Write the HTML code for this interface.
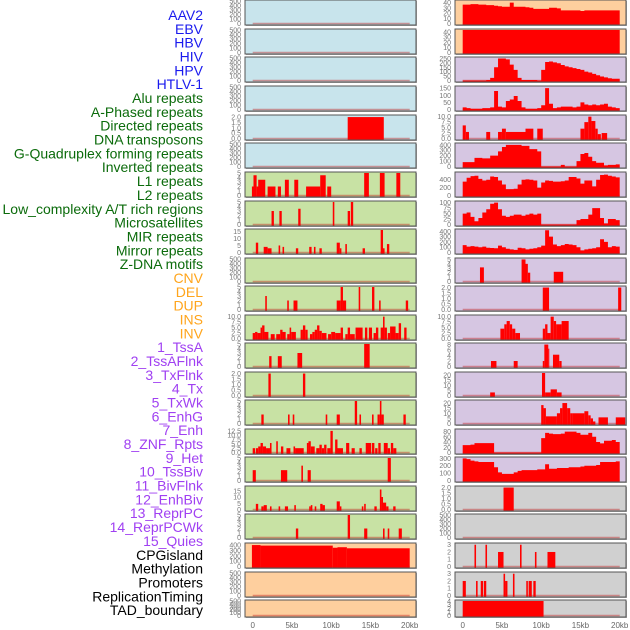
<!DOCTYPE html>
<html><head><meta charset="utf-8"><style>
body{margin:0;background:#fff;width:630px;height:630px;overflow:hidden;font-family:"Liberation Sans",sans-serif}
svg{position:absolute;left:0;top:0}
</style></head><body>
<svg id="chart" width="630" height="630" viewBox="0 0 630 630">
<g id="labels"></g><g id="panels"></g><g id="xaxes"></g>
</svg>
<script>
const labelNames=["AAV2","EBV","HBV","HIV","HPV","HTLV-1","Alu repeats","A-Phased repeats","Directed repeats","DNA transposons","G-Quadruplex forming repeats","Inverted repeats","L1 repeats","L2 repeats","Low_complexity A/T rich regions","Microsatellites","MIR repeats","Mirror repeats","Z-DNA motifs","CNV","DEL","DUP","INS","INV","1_TssA","2_TssAFlnk","3_TxFlnk","4_Tx","5_TxWk","6_EnhG","7_Enh","8_ZNF_Rpts","9_Het","10_TssBiv","11_BivFlnk","12_EnhBiv","13_ReprPC","14_ReprPCWk","15_Quies","CPGisland","Methylation","Promoters","ReplicationTiming","TAD_boundary"];
const labelGroups=["v","v","v","v","v","v","r","r","r","r","r","r","r","r","r","r","r","r","r","s","s","s","s","s","c","c","c","c","c","c","c","c","c","c","c","c","c","c","c","k","k","k","k","k"];
const xTicks=[0,5,10,15,20];
const xTickLabels=["0","5kb","10kb","15kb","20kb"];
const e5=[0,100,200,300,400,500];
const t5=[0,1,2,3,4,5];
const leftTicks=[e5,e5,e5,e5,[0,0.5,1,1.5,2],e5,t5,t5,[0,5,10,15],e5,t5,[0,2.5,5,7.5,10],t5,[0,0.5,1,1.5,2],t5,[0,2.5,5,7.5,10,12.5],t5,[0,5,10,15],t5,[0,100,200,300,400],e5,e5];
const leftMax=[500,500,500,500,2.1,500,5,5,16,500,5,10.3,5,2.05,5,13,5,18,5,420,500,500];
const leftBg=["b","b","b","b","b","b","g","g","g","g","g","g","g","g","g","g","g","g","g","p","p","p"];
const leftSegs=[[],[],[],[],[[12.1,16.7,2]],[],
[[-0.1,0.3,2],[0.1,0.5,4.5],[0.5,0.8,2],[0.7,1.6,3.5],[1.9,2.9,2],[3.2,3.6,2],[4.1,4.6,3.5],[5.3,5.8,3.5],[6.8,8.6,2],[8.6,9.3,4.5],[9.5,10,2],[14.2,14.8,5],[16.2,16.8,5],[18.3,18.8,5]],
[[2.4,2.7,3],[3.4,3.7,3],[5.8,6.1,3.5],[10.2,10.4,5],[12.1,12.4,3],[12.5,12.8,5]],
[[0.4,0.7,7],[1.4,1.9,4],[1.9,2.4,3],[3.3,3.5,5],[3.8,4,4],[5.5,5.8,3],[7.2,7.5,4],[7.8,8,4],[8.5,8.8,3],[10.7,11.1,7],[11.1,11.3,3],[11.8,12,6],[14,14.3,3],[16.3,16.6,16],[16.6,16.8,3],[17.1,17.4,6]],
[],
[[1.6,1.8,3],[4.4,4.6,2],[5.2,5.7,2],[10.7,11.2,2],[11.2,11.5,5],[11.5,11.9,2],[13.5,13.7,5],[15.2,15.5,5],[16.1,16.3,2],[19.5,19.8,2]],
[[0,0.3,2.5],[0.3,0.6,3],[0.6,1,2.5],[1,1.2,5],[1.2,1.5,6],[1.5,2,3],[2.3,2.8,2],[3,3.5,2],[3.5,3.8,4],[3.8,4.2,3],[4.4,4.7,2],[4.7,4.9,5],[4.9,5.5,3],[6.1,6.4,4],[6.4,6.7,6],[6.7,7,4],[7.3,7.6,2],[7.6,7.9,3],[7.9,8.2,4],[8.2,8.5,6],[8.5,8.8,3.5],[8.8,9.4,2.5],[9.6,10,2],[10,10.5,3],[10.5,11.2,2.5],[11.2,11.5,5],[11.8,12.1,2],[12.1,12.4,5],[12.4,13,2],[13.1,14,5],[14.3,14.6,5],[14.8,15.2,5],[15.4,15.7,2.5],[15.7,16,5],[16.3,16.6,5],[16.6,16.8,10],[16.8,17.1,5],[17.2,17.5,2.5],[17.5,18.2,5.5],[18.2,18.6,2.5],[18.6,18.9,7],[19.3,19.6,5]],
[[2.1,2.4,2.3],[3.2,3.7,2.3],[5.7,6.3,3],[14.2,14.9,5]],
[[2,2.3,2],[6.4,6.7,2]],
[[1.1,1.4,2],[4.5,4.7,2],[5.1,5.3,2],[9.3,9.5,2],[10.7,11.1,2],[13,13.3,5],[13.6,13.8,2],[15.2,15.4,2],[15.9,16.2,2],[16.2,16.4,5],[16.4,16.7,2],[19.2,19.5,2]],
[[0,0.3,2.5],[0.4,0.7,2.5],[0.7,1,3.5],[1,1.3,5.5],[1.3,1.7,3.5],[1.7,2.2,2.5],[2.2,2.4,5.5],[3,3.2,6.5],[3.6,3.9,3.5],[4.3,4.8,2.5],[5.2,5.4,3.5],[5.4,6.5,2.5],[6.9,7.1,5.5],[7.1,7.4,6.5],[7.4,7.9,3.5],[8.1,8.5,2.5],[8.5,8.8,4.5],[8.8,9.1,2.5],[9.1,9.4,4.5],[9.5,9.9,2.5],[9.9,10.2,12.5],[10.5,10.8,7.5],[10.8,11.5,2.5],[11.9,12.3,5.5],[12.6,13,2.5],[13.6,13.9,2.5],[14.4,15.1,5.5],[15.2,15.5,5.5],[15.6,15.9,2.5],[16,16.3,5.5],[16.7,17.2,5.5],[17.2,17.5,2.5],[17.6,17.9,5.5],[17.9,18.3,2.5]],
[[0,0.4,2.3],[3.6,4.4,2.3],[6.2,6.4,3.3],[7,7.4,2.3],[17.2,17.6,5]],
[[0.4,0.7,4.5],[1.1,1.4,2.5],[1.4,1.8,3.5],[2.2,2.4,2.5],[3.3,3.5,2.5],[4.1,4.5,2.5],[5.3,5.5,3.5],[7.2,7.4,2.5],[7.4,7.6,3.5],[7.9,8.1,2.5],[8.6,8.9,4.5],[8.9,9.2,3.5],[10.7,11.1,6.5],[11.1,11.3,2.5],[13.9,14.1,2.5],[14.2,14.4,4.5],[15.5,15.8,2.5],[16.2,16.4,16],[16.4,16.6,10],[16.6,17,5.5],[17,17.3,2.5],[17.9,18.2,2.5]],
[[5.5,5.8,2],[12.1,12.4,5],[14.2,14.6,2],[16.6,16.8,2],[17.2,17.4,2],[18.6,19,2]],
[[-0.1,1,400],[1,10.2,390],[10.2,10.8,350],[10.8,12,360],[12,20,340]],
[],[]];
const rightTicks=[[0,10,20,30,40],[0,10,20,30,40],[0,50,100,150,200,250],[0,50,100,150],[0,2.5,5,7.5,10],[0,100,200,300,400],[0,200,400],[0,25,50,75,100],[0,100,200,300,400],t5,[0,0.5,1,1.5,2],[0,2.5,5,7.5,10],[0,2,4,6,8],[0,5,10,15,20],[0,5,10,15,20],[0,20,40,60,80],[0,100,200,300],[0,0.5,1,1.5,2],e5,[0,1,2,3],[0,1,2,3],[0,1,2,3,4]];
const rightMax=[43,44,255,158,10.3,415,570,103,425,5.1,2.05,10.3,8.2,22,22,86,305,2.05,500,3.1,3.1,4];
const rightBg=["p","p","l","l","l","l","l","l","l","l","l","l","l","l","l","l","l","k","k","k","k","k"];
const rightBins=[
[36,36,37,37,36,36,35,35,34,33,32,32,40,32,32,32,31,30,28,28,28,28,30,30,29,25,25,25,25,25,24,25,25,25,25,25,25,25,25,25],
[44,44,44,44,44,44,44,44,44,44,44,44,44,44,44,44,44,44,44,44,44,44,44,44,44,44,44,44,44,44,44,44,44,44,44,44,44,44,44,44],
[0,0,0,0,0,0,5,30,150,250,250,240,180,120,30,5,5,5,5,0,120,210,215,205,195,175,160,150,140,130,120,100,90,75,60,45,35,25,20,20],
[15,10,5,5,5,10,10,15,130,20,15,60,70,95,60,15,5,5,5,10,30,150,40,10,15,20,20,20,15,20,50,35,30,35,30,35,40,20,15,10],
null,
[80,80,80,160,160,150,150,200,200,280,360,400,400,400,400,380,380,320,320,280,0,0,0,0,0,30,0,0,0,100,230,250,180,100,70,70,20,30,30,40],
[350,450,490,500,420,380,400,480,470,380,280,160,160,170,280,400,410,400,380,200,330,380,370,350,350,360,380,470,470,430,300,380,380,230,400,520,530,500,480,460],
[50,55,35,15,30,55,70,95,100,70,40,35,40,45,45,40,45,50,45,50,0,0,0,0,0,0,0,0,0,20,25,25,45,75,75,30,5,25,25,20],
[140,110,120,110,100,110,90,85,80,130,100,70,60,50,90,80,60,70,80,100,130,420,300,150,120,140,160,150,140,100,40,60,70,80,100,250,200,100,120,110],
null,null,null,null,null,null,
[28,28,30,36,36,36,36,36,0,0,0,0,0,0,0,0,0,0,0,0,55,75,72,70,70,72,80,80,80,75,68,68,75,60,40,35,45,45,48,40],
[300,290,270,260,250,250,250,250,180,110,90,90,90,110,130,140,140,140,140,150,150,220,160,160,170,170,170,180,180,180,190,200,200,200,210,250,250,250,250,260],
null,null,null,null,null];
const rightSegs=[[],[],[],[],
[[0,0.4,6],[0.4,0.8,3],[3,3.5,3],[4.5,5,3],[5,5.5,4.5],[5.5,8,3],[8,9,4.5],[9.5,10.2,4.5],[15,15.5,4.5],[15.5,16,7.5],[16,16.4,10],[16.4,16.9,8],[16.9,17.2,4.5],[17.2,17.6,2],[17.7,18.4,2.5]],
[],[],[],[],
[[2.2,2.7,3.2],[7.5,8,5],[8,8.3,4],[8.3,8.6,2],[11.6,12.8,2.2]],
[[10.2,11,2],[19.8,20.2,2]],
[[4.8,5.3,4.5],[5.3,5.6,6.5],[5.6,6,8],[6,6.3,6.5],[6.3,6.7,4.5],[6.7,7.3,2.5],[10.2,10.5,4.5],[10.5,10.8,6.5],[10.8,11.2,2.5],[11.2,11.6,10],[11.6,11.9,8],[11.9,12.6,6.5],[12.6,13.5,8]],
[[3.6,4.3,2],[6.5,7,2],[10.2,10.4,2],[10.4,10.9,8],[10.9,11,6.5],[11.5,12.3,4.3],[12.3,12.6,2]],
[[3.5,4.1,3],[10.1,10.5,22],[10.5,11.2,3],[11.2,12,6],[12,12.6,3]],
[[10,10.3,18],[10.3,10.6,15],[10.6,12,7],[12,12.4,10],[12.4,12.7,15],[12.7,13.3,20],[13.3,13.7,15],[13.7,14,10],[14,15.5,10],[15.5,16,12],[16,16.3,8],[16.3,16.6,5],[16.6,16.9,2],[17.3,18.5,6],[19.5,20.7,6]],
[],[],
[[5.2,6.5,2]],
[],
[[1.5,1.7,3],[2.9,3.1,3],[4.5,5.2,2],[7.3,7.5,3],[9.2,9.4,2],[10.8,11.8,2]],
[[0,0.4,2],[1.7,1.9,2],[2.3,2.6,2],[2.7,3,2],[5.2,5.4,3],[5.4,5.7,2],[6.4,6.6,3],[8.1,8.3,2],[8.4,8.8,2],[9,9.3,2]],
[[0,10.3,4]]];

const NS="http://www.w3.org/2000/svg";
const rowTop=[0,29,57,86,115,143,172,201,229,258,286,315,343,372,400,429,457,486,514,543,572,600];
const bgCol={b:"#c8e4ec",g:"#c8e2a4",p:"#fecf9e",l:"#d6c6e2",k:"#d0d0d0"};
const labCol={v:"#1a1aee",r:"#0b6b0b",s:"#ffa51c",c:"#a040f2",k:"#000"};
function mk(t,a,p){const e=document.createElementNS(NS,t);for(const k in a)e.setAttribute(k,a[k]);p.appendChild(e);return e;}
const labG=document.getElementById("labels");
labelNames.forEach((n,i)=>{
 const t=mk("text",{x:203,y:15+i*13.84+5,"text-anchor":"end","font-size":"14",fill:labCol[labelGroups[i]]},labG);
 t.textContent=n;
 
 
});
const pG=document.getElementById("panels");
function drawPanel(x0,top,h,ticks,ymax,bg,segs,bins,side,ri){
 const g=mk("g",{},pG);
 
 
 const W=171;
 const xs=k=>x0+7.7+k*7.85;
 const y0=top+h-1.5, y1=top+1;
 const ys=v=>y0-(v/ymax)*(y0-y1);
 mk("rect",{x:x0+1,y:top+1,width:W,height:h,fill:"#aaa"},g);
 mk("rect",{x:x0,y:top,width:W,height:h,fill:bgCol[bg],stroke:"#555","stroke-width":1},g);
 const dec=ticks.some(v=>v%1!==0);
 ticks.forEach(t=>{
  const tx=mk("text",{x:x0-4,y:ys(t)+2.5,"text-anchor":"end","font-size":"7",fill:"#777"},g);
  tx.textContent=dec?t.toFixed(1):String(t);
  
  
 });
 mk("rect",{x:x0+0.5,y:top+0.5,width:W-1,height:h-1},mk("clipPath",{id:"c"+side+ri},g));
 const dg=mk("g",{"clip-path":"url(#c"+side+ri+")"},g);
 mk("line",{x1:xs(0),x2:xs(20),y1:y0,y2:y0,stroke:"rgba(190,20,20,0.4)","stroke-width":1.5},dg);
 const drawBar=(a,b,v)=>{if(v<=0)return;const r=mk("rect",{x:xs(a),y:ys(v),width:Math.max(1,xs(b)-xs(a)),height:y0-ys(v)+1,fill:"#ff0000"},dg);
  
  };
 if(bins){
  let d="M"+xs(0)+","+(y0+1);
  bins.forEach((v,i)=>{d+=" L"+xs(i*0.5)+","+ys(v)+" L"+xs((i+1)*0.5)+","+ys(v);});
  d+=" L"+xs(bins.length*0.5)+","+(y0+1)+" Z";
  const p=mk("path",{d:d,fill:"#ff0000"},dg);
  
  
 }
 (segs||[]).forEach(s=>drawBar(s[0],s[1],s[2]));
}
rowTop.forEach((t,i)=>{
 const h=i===21?17:25;
 drawPanel(245,t,h,leftTicks[i],leftMax[i],leftBg[i],leftSegs[i],null,"left",i);
 drawPanel(455,t,h,rightTicks[i],rightMax[i],rightBg[i],rightSegs[i],rightBins[i],"right",i);
});
const xg=document.getElementById("xaxes");
[245,455].forEach((x0,c)=>{
 xTicks.forEach((k,i)=>{
  const t=mk("text",{x:x0+7.7+k*7.85,y:628,"text-anchor":"middle","font-size":"8",fill:"#666"},xg);
  t.textContent=xTickLabels[i];
  
  
 });
});
</script>
</body></html>
